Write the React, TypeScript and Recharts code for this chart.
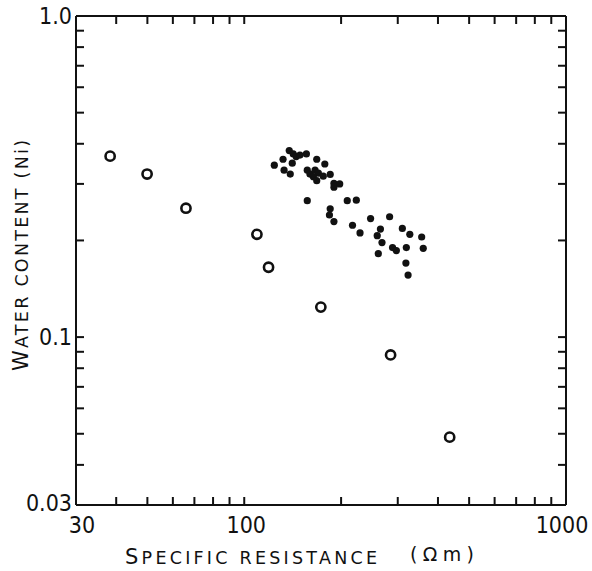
import { ScatterChart, Scatter, XAxis, YAxis } from 'recharts';

// open circles (Ωm, Ni)
const openRes = [38.3, 49.9, 65.9, 109.5, 119, 173, 285, 435];
const openWater = [0.366, 0.322, 0.252, 0.209, 0.165, 0.124, 0.088, 0.0488];

// filled dots
const dotRes = [
  124, 138, 142, 132, 141, 145, 149, 156, 133, 139, 168, 178, 157, 160, 166, 170,
  164, 168, 176, 185, 190, 190, 198, 157, 209, 223, 185, 184, 190, 217, 229, 247,
  283, 265, 259, 268, 261, 289, 297, 310, 327, 319, 356, 360, 318, 323,
];
const dotWater = [
  0.343, 0.381, 0.372, 0.358, 0.348, 0.365, 0.369, 0.372, 0.331, 0.322, 0.358, 0.346, 0.331, 0.322, 0.331, 0.324,
  0.316, 0.307, 0.317, 0.321, 0.301, 0.293, 0.3, 0.266, 0.266, 0.267, 0.251, 0.24, 0.229, 0.223, 0.211, 0.234,
  0.237, 0.217, 0.207, 0.197, 0.182, 0.19, 0.186, 0.218, 0.209, 0.19, 0.205, 0.189, 0.17, 0.156,
];

const xTicks = [30, 40, 50, 60, 70, 80, 90, 100, 200, 300, 400, 500, 600, 700, 800, 900, 1000];
const xMajor = [30, 100, 1000];
const xMajorNudge = [6, 2, -4];
const yTicks = [0.03, 0.04, 0.05, 0.06, 0.07, 0.08, 0.09, 0.1, 0.2, 0.3, 0.4, 0.5, 0.6, 0.7, 0.8, 0.9, 1];
const yMajor = [0.03, 0.1, 1];
const yMajorText = ['0.03', '0.1', '1.0'];

const openData = openRes.map((r, i) => ({ r, w: openWater[i] }));
const dotData = dotRes.map((r, i) => ({ r, w: dotWater[i] }));

const FONT = '"DejaVu Sans Condensed", "DejaVu Sans", sans-serif';
const TITLE_FONT = '"DejaVu Sans", sans-serif';
const TICK = 8;
const INK = '#111';

const isEdge = (v: number, lo: number, hi: number) => v === lo || v === hi;

// tick x/y sit on the axis line (tickSize and tickMargin are 0), ticks point inward
const BottomTick = ({ x, y, payload }: any) => {
  const k = xMajor.indexOf(payload.value);
  return (
    <g>
      {!isEdge(payload.value, 30, 1000) && (
        <line x1={x} x2={x} y1={y} y2={y - TICK} stroke={INK} strokeWidth={2} />
      )}
      {k >= 0 && (
        <text x={x + xMajorNudge[k]} y={y + 28} textAnchor="middle" fontFamily={FONT} fontSize={23} fill={INK}>
          {payload.value}
        </text>
      )}
    </g>
  );
};

const TopTick = ({ x, y, payload }: any) =>
  isEdge(payload.value, 30, 1000) ? <g /> : (
    <line x1={x} x2={x} y1={y} y2={y + TICK} stroke={INK} strokeWidth={2} />
  );

const LeftTick = ({ x, y, payload }: any) => {
  const k = yMajor.indexOf(payload.value);
  return (
    <g>
      {!isEdge(payload.value, 0.03, 1) && (
        <line x1={x} x2={x + TICK} y1={y} y2={y} stroke={INK} strokeWidth={2} />
      )}
      {k >= 0 && (
        <text
          x={x - 4}
          y={y + (payload.value === 0.03 ? 6 : 8)}
          textAnchor="end"
          fontFamily={FONT}
          fontSize={23}
          fill={INK}
        >
          {yMajorText[k]}
        </text>
      )}
    </g>
  );
};

const RightTick = ({ x, y, payload }: any) =>
  isEdge(payload.value, 0.03, 1) ? <g /> : (
    <line x1={x} x2={x - TICK} y1={y} y2={y} stroke={INK} strokeWidth={2} />
  );

const XTitle = () => (
  <g fontFamily={TITLE_FONT} fill={INK}>
    <text x={125} y={564} textLength={252} lengthAdjust="spacing">
      <tspan fontSize={21}>S</tspan>
      <tspan fontSize={17.5}>PECIFIC RESISTANCE</tspan>
    </text>
    <text x={410} y={561} fontSize={19} textLength={64} lengthAdjust="spacing">
      (Ωm)
    </text>
  </g>
);

const YTitle = () => (
  <g fontFamily={TITLE_FONT} fill={INK}>
    <text x={28} y={371} transform="rotate(-90 28 371)" textLength={231} lengthAdjust="spacing">
      <tspan fontSize={21}>W</tspan>
      <tspan fontSize={17.5}>ATER CONTENT (Ni)</tspan>
    </text>
  </g>
);

const OpenDot = ({ cx, cy }: any) => (
  <circle cx={cx} cy={cy} r={4.6} fill="#fff" stroke={INK} strokeWidth={2.6} />
);

const FilledDot = ({ cx, cy }: any) => <circle cx={cx} cy={cy} r={3.6} fill={INK} />;

const axisLine = { stroke: INK, strokeWidth: 2 };

export default function App() {
  return (
    <div style={{ position: 'absolute', left: 0, top: 0, background: '#fff' }}>
      <ScatterChart width={592} height={571} margin={{ top: 15, right: 25, bottom: 65, left: 75 }}>
        <XAxis
          xAxisId="b"
          dataKey="r"
          type="number"
          scale="log"
          domain={[30, 1000]}
          allowDataOverflow
          ticks={xTicks}
          interval={0}
          height={1}
          tickSize={0}
          tickMargin={0}
          tickLine={false}
          tick={<BottomTick />}
          axisLine={axisLine}
          label={<XTitle />}
        />
        <XAxis
          xAxisId="t"
          orientation="top"
          dataKey="r"
          type="number"
          scale="log"
          domain={[30, 1000]}
          allowDataOverflow
          ticks={xTicks}
          interval={0}
          height={1}
          tickSize={0}
          tickMargin={0}
          tickLine={false}
          tick={<TopTick />}
          axisLine={axisLine}
        />
        <YAxis
          yAxisId="l"
          dataKey="w"
          type="number"
          scale="log"
          domain={[0.03, 1]}
          allowDataOverflow
          ticks={yTicks}
          interval={0}
          width={1}
          tickSize={0}
          tickMargin={0}
          tickLine={false}
          tick={<LeftTick />}
          axisLine={axisLine}
          label={<YTitle />}
        />
        <YAxis
          yAxisId="r"
          orientation="right"
          dataKey="w"
          type="number"
          scale="log"
          domain={[0.03, 1]}
          allowDataOverflow
          ticks={yTicks}
          interval={0}
          width={1}
          tickSize={0}
          tickMargin={0}
          tickLine={false}
          tick={<RightTick />}
          axisLine={axisLine}
        />
        <Scatter xAxisId="b" yAxisId="l" data={openData} shape={<OpenDot />} isAnimationActive={false} />
        <Scatter xAxisId="b" yAxisId="l" data={dotData} shape={<FilledDot />} isAnimationActive={false} />
        <Scatter xAxisId="t" yAxisId="r" data={[]} isAnimationActive={false} />
      </ScatterChart>
    </div>
  );
}
